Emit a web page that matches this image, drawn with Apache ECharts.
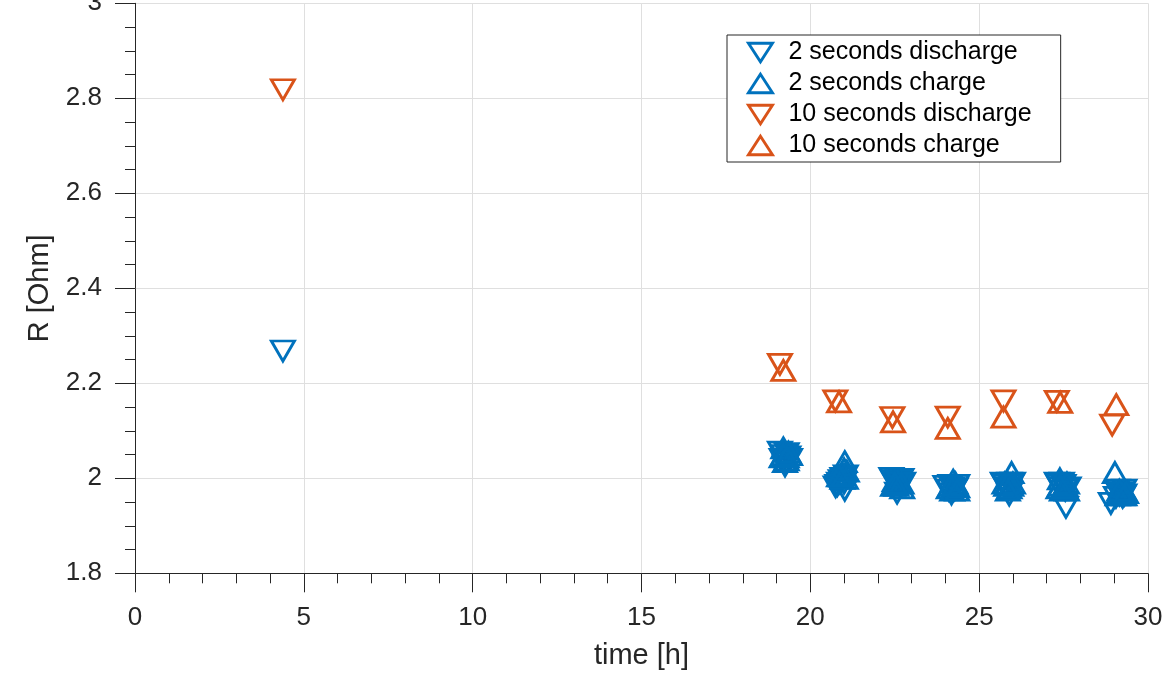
<!DOCTYPE html>
<html>
<head>
<meta charset="utf-8">
<script src="https://cdn.jsdelivr.net/npm/echarts@6/dist/echarts.min.js"></script>
<style>
  html, body { margin: 0; padding: 0; background: #ffffff; }
  #chart { width: 1164px; height: 685px; }
</style>
</head>
<body>
<div id="chart"></div>
<script>
// ---- data ----
const seriesNames = ['2 seconds discharge', '2 seconds charge', '10 seconds discharge', '10 seconds charge'];

const dis2T = [4.38,
  19.1, 19.3, 19.35, 19.25, 19.4, 19.2, 19.3, 19.15,
  20.75, 21.02, 20.95, 21.05, 20.9, 20.85, 21.0, 20.8,
  22.4, 22.57, 22.7, 22.55, 22.65, 22.45, 22.6, 22.75,
  24.0, 24.18, 24.3, 24.1, 24.35, 24.2, 24.25, 24.15,
  25.7, 25.89, 25.95, 25.8, 26.0, 25.85, 25.9, 25.75,
  27.3, 27.57, 27.5, 27.65, 27.4, 27.45, 27.55, 27.35,
  28.9, 29.2, 29.3, 29.1, 29.25, 29.15, 29.3, 29.05];
const dis2R = [2.268,
  2.055, 2.052, 2.045, 2.026, 2.040, 2.048, 2.035, 2.040,
  1.982, 1.975, 2.0, 2.005, 1.995, 1.99, 1.99, 1.985,
  2.0, 1.969, 1.998, 1.99, 1.985, 1.995, 1.995, 1.99,
  1.983, 1.967, 1.978, 1.975, 1.985, 1.98, 1.975, 1.985,
  1.99, 1.965, 1.985, 1.98, 1.99, 1.975, 1.99, 1.985,
  1.99, 1.939, 1.985, 1.98, 1.98, 1.99, 1.975, 1.985,
  1.947, 1.97, 1.965, 1.975, 1.96, 1.965, 1.975, 1.96];

const chg2T = [
  19.2, 19.3, 19.15, 19.4, 19.25, 19.35, 19.2, 19.3,
  21.02, 20.95, 21.05, 20.9, 21.08, 21.0, 20.95, 20.85,
  22.5, 22.65, 22.72, 22.45, 22.6, 22.55, 22.7, 22.5,
  24.23, 24.35, 24.1, 24.3, 24.2, 24.25, 24.15, 24.35,
  25.96, 25.8, 25.9, 26.0, 25.75, 25.85, 25.95, 25.85,
  27.39, 27.55, 27.6, 27.45, 27.35, 27.5, 27.6, 27.4,
  29.02, 29.2, 29.3, 29.1, 29.35, 29.25, 29.15, 29.3];
const chg2R = [
  2.064, 2.039, 2.045, 2.05, 2.035, 2.055, 2.05, 2.045,
  2.035, 2.01, 2.0, 2.005, 2.015, 2.02, 2.0, 2.005,
  1.995, 1.99, 1.98, 1.985, 1.992, 1.985, 1.99, 1.99,
  1.996, 1.982, 1.98, 1.99, 1.975, 1.985, 1.985, 1.975,
  2.012, 1.985, 1.98, 1.99, 1.99, 1.99, 1.985, 1.975,
  1.999, 1.985, 1.975, 1.975, 1.98, 1.98, 1.99, 1.985,
  2.012, 1.97, 1.975, 1.965, 1.97, 1.965, 1.975, 1.965];

const dis10T = [4.38, 19.1, 20.74, 22.43, 24.07, 25.72, 27.30, 28.94];
const dis10R = [2.818, 2.240, 2.163, 2.128, 2.129, 2.163, 2.162, 2.112];

const chg10T = [19.2, 20.85, 22.45, 24.07, 25.72, 27.40, 29.06];
const chg10R = [2.227, 2.161, 2.119, 2.105, 2.129, 2.160, 2.155];

const xTicks = [0, 5, 10, 15, 20, 25, 30];
const yTicks = [1.8, 2, 2.2, 2.4, 2.6, 2.8, 3];

// ---- styling ----
const BLUE = '#0072BD';
const ORANGE = '#D95319';
const AX = '#262626';
const GRID = '#dfdfdf';
const FONT = '"Liberation Sans", Arial, Helvetica, sans-serif';

function pairs(xs, ys) { return xs.map((x, i) => [x, ys[i]]); }

function makeSeries(name, xs, ys, color, down) {
  return {
    name: name,
    type: 'scatter',
    data: pairs(xs, ys),
    symbol: 'triangle',
    symbolSize: [23, 20],
    symbolRotate: down ? 180 : 0,
    itemStyle: { color: 'rgba(0,0,0,0)', borderColor: color, borderWidth: 2.9, opacity: 1 },
    emphasis: { disabled: true },
    animation: false
  };
}

const downIcon = 'path://M0,0L26,0L13,20Z';
const upIcon = 'path://M13,0L26,20L0,20Z';

const chart = echarts.init(document.getElementById('chart'), null, { renderer: 'canvas' });

chart.setOption({
  backgroundColor: '#ffffff',
  animation: false,
  textStyle: { fontFamily: FONT },
  grid: { left: 135, right: 16, top: 3.3, bottom: 111.7, containLabel: false, outerBoundsMode: 'none' },
  legend: {
    orient: 'vertical',
    left: 727,
    top: 35,
    padding: [5, 29, 4, 20],
    itemWidth: 24,
    itemHeight: 19,
    itemGap: 6,
    backgroundColor: '#ffffff',
    borderColor: AX,
    borderWidth: 1,
    borderRadius: 0,
    textStyle: { fontSize: 25, color: '#000000', fontFamily: FONT, padding: [0, 0, 0, 11] },
    data: [
      { name: seriesNames[0], icon: downIcon, itemStyle: { color: 'rgba(0,0,0,0)', borderColor: BLUE, borderWidth: 2.9 } },
      { name: seriesNames[1], icon: upIcon, itemStyle: { color: 'rgba(0,0,0,0)', borderColor: BLUE, borderWidth: 2.9 } },
      { name: seriesNames[2], icon: downIcon, itemStyle: { color: 'rgba(0,0,0,0)', borderColor: ORANGE, borderWidth: 2.9 } },
      { name: seriesNames[3], icon: upIcon, itemStyle: { color: 'rgba(0,0,0,0)', borderColor: ORANGE, borderWidth: 2.9 } }
    ],
    selectedMode: false
  },
  xAxis: {
    type: 'value',
    min: xTicks[0],
    max: xTicks[xTicks.length - 1],
    interval: xTicks[1] - xTicks[0],
    name: 'time [h]',
    nameLocation: 'middle',
    nameGap: 68,
    nameTextStyle: { fontSize: 29, color: AX, fontFamily: FONT },
    axisLine: { show: true, onZero: false, lineStyle: { color: AX, width: 1 } },
    axisTick: { show: true, inside: false, length: 19, lineStyle: { color: AX, width: 1 } },
    minorTick: { show: true, splitNumber: 5, length: 10, lineStyle: { color: AX, width: 1 } },
    splitLine: { show: true, lineStyle: { color: GRID, width: 1 } },
    axisLabel: { fontSize: 26, color: AX, margin: 32, fontFamily: FONT }
  },
  yAxis: {
    type: 'value',
    min: yTicks[0],
    max: yTicks[yTicks.length - 1],
    interval: 0.2,
    name: 'R [Ohm]',
    nameLocation: 'middle',
    nameGap: 80,
    nameTextStyle: { fontSize: 29, color: AX, fontFamily: FONT },
    axisLine: { show: true, onZero: false, lineStyle: { color: AX, width: 1 } },
    axisTick: { show: true, inside: false, length: 20, lineStyle: { color: AX, width: 1 } },
    minorTick: { show: true, splitNumber: 4, length: 10, lineStyle: { color: AX, width: 1 } },
    splitLine: { show: true, lineStyle: { color: GRID, width: 1 } },
    axisLabel: {
      fontSize: 26, color: AX, margin: 33, fontFamily: FONT,
      formatter: function (v) { return String(Math.round(v * 10) / 10); }
    }
  },
  series: [
    makeSeries(seriesNames[0], dis2T, dis2R, BLUE, true),
    makeSeries(seriesNames[1], chg2T, chg2R, BLUE, false),
    makeSeries(seriesNames[2], dis10T, dis10R, ORANGE, true),
    makeSeries(seriesNames[3], chg10T, chg10R, ORANGE, false)
  ]
});
</script>
</body>
</html>
